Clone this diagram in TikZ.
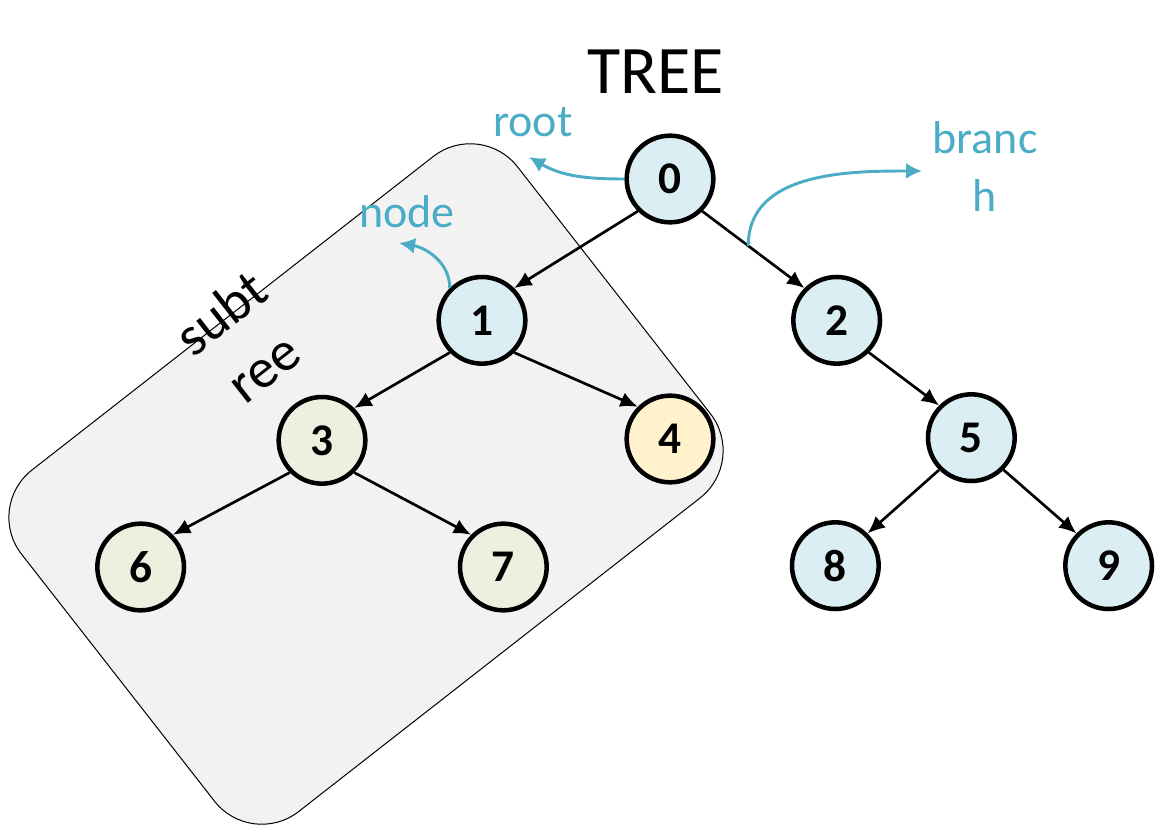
\documentclass[tikz,border=0pt]{standalone}
\usepackage{fontspec}
\setmainfont{Carlito}
\usetikzlibrary{positioning,calc,arrows.meta}

\definecolor{nodeblue}{HTML}{DAEEF3}
\definecolor{nodegreen}{HTML}{EBF1DE}
\definecolor{nodeyellow}{HTML}{FFF2CC}
\definecolor{boxgray}{HTML}{F2F2F2}
\definecolor{hintteal}{HTML}{4BACC6}

\tikzset{
  treenode/.style={circle, draw, line width=3.4pt, minimum size=65pt, inner sep=0pt,
    fill=nodeblue, font=\fontsize{34}{40}\selectfont\bfseries},
  branchedge/.style={line width=2pt, -{Latex[length=13pt,width=11.5pt]}},
  hint/.style={draw=hintteal, line width=2.2pt, -{Latex[length=12pt,width=12pt]}},
  hintlabel/.style={text=hintteal, font=\fontsize{34.5}{43.5}\selectfont},
  subtreebox/.style={draw, line width=0.75pt, fill=boxgray, rounded corners=45pt,
    minimum width=472pt, minimum height=325pt}
}

\begin{document}
\begin{tikzpicture}[x=0.75pt, y=-0.75pt, node distance=1cm, on grid]
\useasboundingbox (0,0) rectangle (1165,837);

\node[subtreebox, rotate=38] (sub) at (366,484) {};
\node[rotate=38, align=center, font=\fontsize{42}{52}\selectfont] (subl) at (242,340) {subt\\ree};

\node[font=\fontsize{51}{60}\selectfont, anchor=base] (title) at (656,94) {TREE};

\node[treenode]		(n0)	at (670,179)	{0};
\node[treenode, below left = 106pt and 141pt of n0]		(n1)	{1};
\node[treenode, below right = 106pt and 125pt of n0]	(n2)	{2};
\node[treenode, fill=nodegreen, below left = 90pt and 120pt of n1]	(n3)	{3};
\node[treenode, fill=nodeyellow, below right = 89pt and 141pt of n1]	(n4)	{4};
\node[treenode, below right = 88pt and 101pt of n2]	(n5)	{5};
\node[treenode, fill=nodegreen, below left = 95pt and 136pt of n3]	(n6)	{6};
\node[treenode, fill=nodegreen, below right = 95pt and 136pt of n3]	(n7)	{7};
\node[treenode, below left = 96pt and 102pt of n5]	(n8)	{8};
\node[treenode, below right = 96pt and 103pt of n5]	(n9)	{9};

% Connect nodes
\draw[branchedge] (n0.south west) -- (n1.north east);
\draw[branchedge] (n0.south east) -- (n2.north west);
\draw[branchedge] (n1.south west) -- (n3.north east);
\draw[branchedge] (n1.south east) -- (n4.north west);
\draw[branchedge] (n2.south east) -- (n5.north west);
\draw[branchedge] (n3.south west) -- (n6.north east);
\draw[branchedge] (n3.south east) -- (n7.north west);
\draw[branchedge] (n5.south west) -- (n8.north east);
\draw[branchedge] (n5.south east) -- (n9.north west);

% labels
\node[hintlabel, anchor=base] (rootl)	at (533,137)	{root};
\node[hintlabel, anchor=base] (nodel)	at (407,228)	{node};
\node[hintlabel, align=center, anchor=base] (branchl)	at (985,212)	{branc\\h};

\coordinate (rootend) at (529,157);
\coordinate (nodeend) at (399,243);
\coordinate (branchend) at (922,171);
\coordinate (branchstart) at ($(n0.south east)!0.45!(n2.north west)$);

\draw[hint] (n0.west) to[out=180, in=-30] (rootend);
\draw[hint] (n1.north west) to[out=90, in=-10] (nodeend);
\draw[hint] (branchstart) to[out=90, in=180] (branchend);
\end{tikzpicture}
\end{document}
